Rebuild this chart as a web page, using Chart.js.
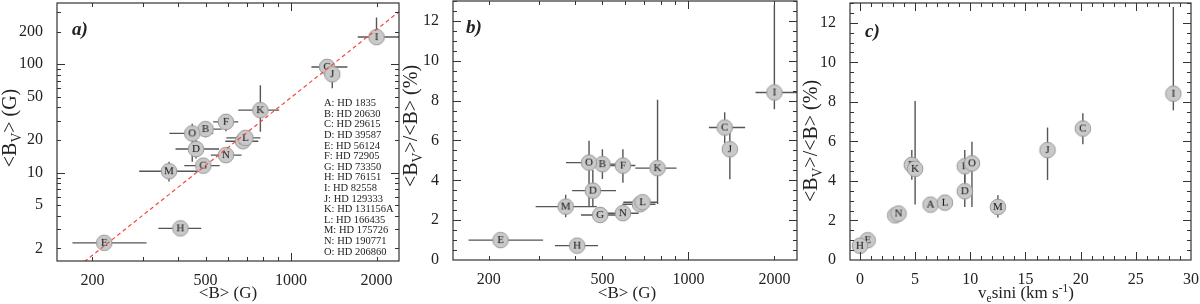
<!DOCTYPE html>
<html>
<head>
<meta charset="utf-8">
<script src="https://cdn.jsdelivr.net/npm/chart.js@4.4.0/dist/chart.umd.min.js"></script>
<style>
  body { margin: 0; background: #fff; width: 1200px; height: 304px; overflow: hidden; position: relative; }
  canvas { position: absolute; top: 0; }
</style>
</head>
<body>
<canvas id="pa" width="400" height="304" style="left:0"></canvas>
<canvas id="pb" width="400" height="304" style="left:400px"></canvas>
<canvas id="pc" width="400" height="304" style="left:800px"></canvas>
<script>
// stars, A..O
const stars = ['A', 'B', 'C', 'D', 'E', 'F', 'G', 'H', 'I', 'J', 'K', 'L', 'M', 'N', 'O'];
const hdNames = ['HD 1835', 'HD 20630', 'HD 29615', 'HD 39587', 'HD 56124', 'HD 72905', 'HD 73350',
    'HD 76151', 'HD 82558', 'HD 129333', 'HD 131156A', 'HD 166435', 'HD 175726', 'HD 190771', 'HD 206860'];

// <B> (G) with error bar lengths
const meanB = [677, 500, 1340, 463, 220, 590, 491, 408, 2000, 1397, 780, 691, 372, 590, 449];
const meanBErrLo = [90, 65, 160, 71, 50, 58, 70, 67, 282, 60, 128, 99, 80, 68, 76];
const meanBErrHi = [90, 70, 240, 95, 90, 62, 70, 75, 400, 60, 129, 89, 106, 80, 83];

// <Bv> (G)
const meanBv = [19.5, 25.2, 94.4, 16.5, 2.25, 29.4, 11.6, 3.06, 178, 80.9, 37.7, 20.9, 10.3, 14.5, 23];
const meanBvErrLo = [1.4, 4, 11, 3, 0.2, 5.3, 0.5, 0.2, 18, 21, 13.9, 2, 2, 0.9, 10.4];
const meanBvErrHi = [1.4, 4, 11, 3.5, 0.2, 5.1, 0.5, 0.2, 92, 17, 26.3, 2, 2.3, 0.9, 5.2];

// <Bv>/<B> (%)
const ratio = [2.8, 4.81, 6.65, 3.48, 1.0, 4.74, 2.26, 0.72, 8.41, 5.56, 4.61, 2.9, 2.68, 2.35, 4.89];
const ratioErrLo = [0.2, 0.75, 0.79, 0.8, 0.1, 0.86, 0.1, 0.05, 0.84, 1.51, 1.8, 0.3, 0.53, 0.15, 2.21];
const ratioErrHi = [0.2, 0.75, 0.77, 1.04, 0.1, 0.82, 0.1, 0.05, 4.39, 1.14, 3.43, 0.3, 0.59, 0.15, 1.09];

// ve sini (km/s)
const vsini = [6.4, 4.7, 20.2, 9.5, 0.7, 9.5, 3.2, 0.0, 28.4, 17.0, 5.0, 7.7, 12.5, 3.5, 10.15];

// dashed red line of panel a (end points)
const fitB = [150, 2400];
const fitBv = [0.95, 305];

// tick labels
const bTicks = [200, 500, 1000, 2000];
const bvTicks = [2, 5, 10, 20, 50, 100, 200];
const ratioTicks = [0, 2, 4, 6, 8, 10, 12];
const vsiniTicks = [0, 5, 10, 15, 20, 25, 30];

const SERIF = '"Liberation Serif", "Times New Roman", serif';
const INK = '#222';

function markerImage(letter) {
    const c = document.createElement('canvas');
    c.width = 20;
    c.height = 20;
    const g = c.getContext('2d');
    g.beginPath();
    g.arc(10, 10, 7.8, 0, Math.PI * 2);
    g.fillStyle = '#c9c9c9';
    g.fill();
    g.strokeStyle = '#9a9a9a';
    g.lineWidth = 1;
    g.stroke();
    g.fillStyle = '#111';
    g.font = '11px ' + SERIF;
    g.textAlign = 'center';
    g.textBaseline = 'middle';
    g.fillText(letter, 10, 10.5);
    return c;
}
const markers = stars.map(markerImage);

function logMinors(min, max) {
    const out = [];
    for (let e = Math.floor(Math.log10(min)); e <= Math.ceil(Math.log10(max)); e++) {
        for (let m = 1; m < 10; m++) {
            const v = m * Math.pow(10, e);
            if (v >= min && v <= max) out.push(v);
        }
    }
    return out;
}

function linSteps(min, max, step) {
    const out = [];
    for (let v = Math.ceil(min / step) * step; v <= max + 1e-9; v += step) out.push(v);
    return out;
}

// extra per-panel info, keyed by canvas id
const panelInfo = {};

// box round the plot with inward ticks on all four sides
const frame = {
    id: 'frame',
    afterDraw(chart) {
        const p = panelInfo[chart.canvas.id];
        const { ctx, chartArea: a, scales: { x, y } } = chart;
        ctx.save();
        ctx.strokeStyle = '#333';
        ctx.lineWidth = 1.2;
        ctx.strokeRect(a.left, a.top, a.width, a.height);
        ctx.lineWidth = 1;
        const tickX = (v, len) => {
            const px = Math.round(x.getPixelForValue(v)) + 0.5;
            if (px < a.left || px > a.right) return;
            ctx.beginPath();
            ctx.moveTo(px, a.bottom); ctx.lineTo(px, a.bottom - len);
            ctx.moveTo(px, a.top); ctx.lineTo(px, a.top + len);
            ctx.stroke();
        };
        const tickY = (v, len) => {
            const py = Math.round(y.getPixelForValue(v)) + 0.5;
            if (py < a.top || py > a.bottom) return;
            ctx.beginPath();
            ctx.moveTo(a.left, py); ctx.lineTo(a.left + len, py);
            ctx.moveTo(a.right, py); ctx.lineTo(a.right - len, py);
            ctx.stroke();
        };
        p.xMinor.forEach(v => tickX(v, 4));
        p.xMajor.forEach(v => tickX(v, 8));
        p.yMinor.forEach(v => tickY(v, 4));
        p.yMajor.forEach(v => tickY(v, 8));
        ctx.restore();
    }
};

const errorBars = {
    id: 'errorBars',
    beforeDatasetsDraw(chart) {
        const p = panelInfo[chart.canvas.id];
        const { ctx, chartArea: a, scales: { x, y } } = chart;
        ctx.save();
        ctx.beginPath();
        ctx.rect(a.left, a.top, a.width, a.height);
        ctx.clip();
        ctx.strokeStyle = '#555';
        ctx.lineWidth = 1.4;
        p.xs.forEach((xv, i) => {
            const px = x.getPixelForValue(xv);
            const py = y.getPixelForValue(p.ys[i]);
            ctx.beginPath();
            if (p.xLo) {
                ctx.moveTo(x.getPixelForValue(xv - p.xLo[i]), py);
                ctx.lineTo(x.getPixelForValue(xv + p.xHi[i]), py);
            }
            if (p.yLo) {
                ctx.moveTo(px, y.getPixelForValue(p.ys[i] - p.yLo[i]));
                ctx.lineTo(px, y.getPixelForValue(p.ys[i] + p.yHi[i]));
            }
            ctx.stroke();
        });
        ctx.restore();
    }
};

// text with sub/superscripts, centred on (cx, cy)
function drawRich(ctx, parts, cx, cy, angle, size) {
    ctx.save();
    ctx.translate(cx, cy);
    ctx.rotate(angle);
    ctx.fillStyle = INK;
    ctx.textBaseline = 'middle';
    ctx.textAlign = 'left';
    const fontOf = part => ((part.sub || part.sup) ? size * 0.68 : size) + 'px ' + SERIF;
    let total = 0;
    parts.forEach(part => { ctx.font = fontOf(part); total += ctx.measureText(part.t).width; });
    let x = -total / 2;
    parts.forEach(part => {
        ctx.font = fontOf(part);
        const dy = part.sub ? size * 0.3 : part.sup ? -size * 0.3 : 0;
        ctx.fillText(part.t, x, dy);
        x += ctx.measureText(part.t).width;
    });
    ctx.restore();
}

const labels = {
    id: 'labels',
    afterDraw(chart) {
        const p = panelInfo[chart.canvas.id];
        const ctx = chart.ctx;
        drawRich(ctx, p.xTitle, p.xTitlePos[0], p.xTitlePos[1], 0, p.xTitleSize);
        drawRich(ctx, p.yTitle, p.yTitlePos[0], p.yTitlePos[1], -Math.PI / 2, p.yTitleSize);
        ctx.save();
        ctx.fillStyle = INK;
        ctx.font = 'italic bold 19px ' + SERIF;
        ctx.textBaseline = 'alphabetic';
        ctx.fillText(p.tag, p.tagPos[0], p.tagPos[1]);
        if (p.legend) {
            ctx.font = '10.5px ' + SERIF;
            ctx.textBaseline = 'middle';
            stars.forEach((s, i) => {
                ctx.fillText(s + ': ' + hdNames[i], 324, 103.5 + i * 10.6);
            });
        }
        ctx.restore();
    }
};

function axis(type, min, max, ticks, pad, fitFn) {
    return {
        type: type,
        min: min,
        max: max,
        afterBuildTicks: s => { s.ticks = ticks.map(v => ({ value: v })); },
        afterFit: s => {
            fitFn(s);
            // keep the plot box where it is set, whatever the label sizes
            s.paddingTop = 0;
            s.paddingBottom = 0;
            s.paddingLeft = 0;
            s.paddingRight = 0;
        },
        grid: { display: false },
        border: { display: false },
        ticks: {
            autoSkip: false,
            maxRotation: 0,
            color: INK,
            padding: pad,
            font: { family: SERIF, size: 16 },
            callback: v => String(v)
        }
    };
}

function buildChart(p) {
    panelInfo[p.canvas] = p;
    const a = p.area;
    const datasets = [];
    if (p.fit) {
        datasets.push({
            type: 'line',
            data: fitB.map((v, i) => ({ x: v, y: fitBv[i] })),
            borderColor: '#ef4a44',
            borderWidth: 1.2,
            borderDash: [4, 3],
            pointRadius: 0,
            fill: false
        });
    }
    datasets.push({
        type: 'scatter',
        data: p.xs.map((v, i) => ({ x: v, y: p.ys[i] })),
        pointStyle: markers,
        pointRadius: 8,
        pointHoverRadius: 8
    });

    new Chart(document.getElementById(p.canvas), {
        type: 'scatter',
        data: { datasets: datasets },
        options: {
            responsive: false,
            animation: false,
            events: [],
            layout: {
                autoPadding: false,
                padding: { top: a.top, right: 400 - a.right, left: 0, bottom: 0 }
            },
            plugins: { legend: { display: false }, tooltip: { enabled: false } },
            scales: {
                x: axis(p.xType, p.xMin, p.xMax, p.xTicks, 2, s => { s.height = 304 - a.bottom; }),
                y: axis(p.yType, p.yMin, p.yMax, p.yTicks, 6, s => { s.width = a.left; })
            }
        },
        plugins: [errorBars, frame, labels]
    });
}

const bvTitle = [{ t: '<B' }, { t: 'V', sub: true }, { t: '> (G)' }];
const ratioTitle = [{ t: '<B' }, { t: 'V', sub: true }, { t: '>/<B> (%)' }];
const bTitle = [{ t: '<B> (G)' }];
const vsiniTitle = [{ t: 'v' }, { t: 'e', sub: true }, { t: 'sini (km s' }, { t: '-1', sup: true }, { t: ')' }];

buildChart({
    canvas: 'pa', area: { left: 57, top: 3, right: 399, bottom: 261 },
    xType: 'logarithmic', xMin: 150, xMax: 2400, xTicks: bTicks,
    yType: 'logarithmic', yMin: 1.53, yMax: 367, yTicks: bvTicks,
    xMajor: [1000], xMinor: logMinors(150, 2400),
    yMajor: [10, 100], yMinor: logMinors(1.53, 367),
    xs: meanB, ys: meanBv, xLo: meanBErrLo, xHi: meanBErrHi, yLo: meanBvErrLo, yHi: meanBvErrHi,
    xTitle: bTitle, xTitlePos: [228, 294], xTitleSize: 17,
    yTitle: bvTitle, yTitlePos: [11, 128], yTitleSize: 20,
    tag: 'a)', tagPos: [72, 35], legend: true, fit: true
});

buildChart({
    canvas: 'pb', area: { left: 53, top: 1, right: 397, bottom: 260 },
    xType: 'logarithmic', xMin: 150, xMax: 2400, xTicks: bTicks,
    yType: 'linear', yMin: 0, yMax: 13, yTicks: ratioTicks,
    xMajor: [1000], xMinor: logMinors(150, 2400),
    yMajor: linSteps(0, 13, 2), yMinor: linSteps(0, 13, 0.5),
    xs: meanB, ys: ratio, xLo: meanBErrLo, xHi: meanBErrHi, yLo: ratioErrLo, yHi: ratioErrHi,
    xTitle: bTitle, xTitlePos: [227, 294], xTitleSize: 17,
    yTitle: ratioTitle, yTitlePos: [12, 126], yTitleSize: 20,
    tag: 'b)', tagPos: [66, 33]
});

buildChart({
    canvas: 'pc', area: { left: 50, top: 3, right: 391, bottom: 260 },
    xType: 'linear', xMin: -0.9, xMax: 30, xTicks: vsiniTicks,
    yType: 'linear', yMin: 0, yMax: 13, yTicks: ratioTicks,
    xMajor: linSteps(0, 30, 5), xMinor: linSteps(0, 30, 1),
    yMajor: linSteps(0, 13, 2), yMinor: linSteps(0, 13, 0.5),
    xs: vsini, ys: ratio, yLo: ratioErrLo, yHi: ratioErrHi,
    xTitle: vsiniTitle, xTitlePos: [226, 294], xTitleSize: 17,
    yTitle: ratioTitle, yTitlePos: [12, 141], yTitleSize: 20,
    tag: 'c)', tagPos: [65, 37]
});
</script>
</body>
</html>
